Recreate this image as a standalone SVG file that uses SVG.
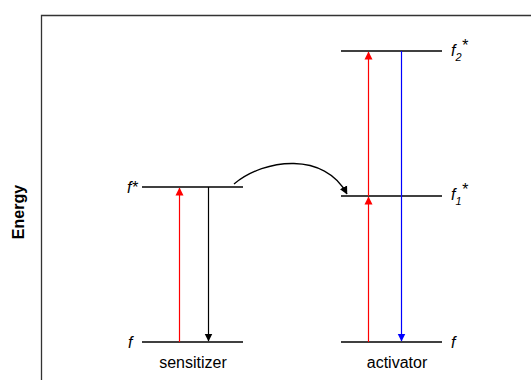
<svg xmlns="http://www.w3.org/2000/svg" width="531" height="380" viewBox="0 0 531 380">
  <style>
    .lvl { stroke: #000; stroke-width: 1.5; fill: none; }
    .frame { stroke: #333; stroke-width: 1.3; fill: none; }
    .lbl { font-family: "Liberation Sans", Arial, sans-serif; font-size: 16px; fill: #000; }
    .it { font-style: italic; }
    .sub { font-size: 11px; }
  </style>
  <defs>
    <marker id="hk" markerWidth="8" markerHeight="10" viewBox="0 0 8 10" refX="7.5" refY="5" orient="auto" markerUnits="userSpaceOnUse">
      <path d="M0,1 L8,5 L0,9 z" fill="#000"/>
    </marker>
    <marker id="hr" markerWidth="8" markerHeight="10" viewBox="0 0 8 10" refX="7.5" refY="5" orient="auto" markerUnits="userSpaceOnUse">
      <path d="M0,1 L8,5 L0,9 z" fill="#f00"/>
    </marker>
    <marker id="hb" markerWidth="8" markerHeight="10" viewBox="0 0 8 10" refX="7.5" refY="5" orient="auto" markerUnits="userSpaceOnUse">
      <path d="M0,1 L8,5 L0,9 z" fill="#00f"/>
    </marker>
  </defs>

  <!-- axis frame -->
  <path class="frame" d="M41.5,380 V15.5 H531"/>
  <text class="lbl" font-weight="bold" transform="translate(24,212) rotate(-90)" text-anchor="middle">Energy</text>

  <!-- sensitizer levels -->
  <g id="sens-excited">
    <line class="lvl" x1="142" y1="187" x2="243" y2="187"/>
    <text class="lbl it" x="127" y="193">f*</text>
  </g>
  <g id="sens-ground">
    <line class="lvl" x1="142" y1="342" x2="243" y2="342"/>
    <text class="lbl it" x="128" y="348">f</text>
    <text class="lbl" x="193" y="368" text-anchor="middle">sensitizer</text>
  </g>

  <!-- activator levels -->
  <g id="act-f2">
    <line class="lvl" x1="341" y1="51" x2="442" y2="51"/>
    <text class="lbl it" x="451" y="56">f<tspan class="sub" dy="5">2</tspan><tspan dy="-10">*</tspan></text>
  </g>
  <g id="act-f1">
    <line class="lvl" x1="341" y1="196" x2="442" y2="196"/>
    <text class="lbl it" x="451" y="200">f<tspan class="sub" dy="5">1</tspan><tspan dy="-10">*</tspan></text>
  </g>
  <g id="act-ground">
    <line class="lvl" x1="341" y1="342" x2="442" y2="342"/>
    <text class="lbl it" x="451" y="348">f</text>
    <text class="lbl" x="397" y="368" text-anchor="middle">activator</text>
  </g>

  <!-- transitions -->
  <g id="connectors">
    <line x1="179.5" y1="342" x2="179.5" y2="188" stroke="#f00" stroke-width="1.2" marker-end="url(#hr)"/>
    <line x1="208.5" y1="187" x2="208.5" y2="341" stroke="#000" stroke-width="1.2" marker-end="url(#hk)"/>
    <line x1="368.5" y1="342" x2="368.5" y2="197" stroke="#f00" stroke-width="1.2" marker-end="url(#hr)"/>
    <line x1="368.5" y1="196" x2="368.5" y2="52" stroke="#f00" stroke-width="1.2" marker-end="url(#hr)"/>
    <line x1="401.5" y1="51" x2="401.5" y2="341" stroke="#00f" stroke-width="1.2" marker-end="url(#hb)"/>
    <path d="M234,184 C265,158 325,152 347,194" fill="none" stroke="#000" stroke-width="1.3" marker-end="url(#hk)"/>
  </g>
</svg>
